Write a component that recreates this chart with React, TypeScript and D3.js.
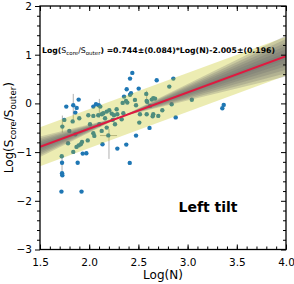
import * as d3 from 'd3';
import { useEffect, useRef } from 'react';

// log(N) of each source
const logN = [
    1.767, 1.838, 1.893, 1.873, 1.859, 2.042, 2.069, 2.097, 2.113, 2.438,
    2.415, 2.503, 2.381, 2.425, 2.415, 2.354, 2.686, 2.855, 3.353, 3.367,
    2.879, 2.613, 2.476, 2.377, 2.286, 2.135, 2.412, 1.971, 1.934, 1.883,
    1.724, 1.724, 1.727, 1.718, 1.922,
    1.727, 1.747, 1.832, 1.721, 1.785, 1.838, 1.871, 1.893, 1.914, 1.927,
    1.985, 2.052, 1.859, 1.899, 1.991, 2.008, 2.042, 2.042, 2.092, 2.103,
    2.127, 2.143, 2.161, 2.178, 2.204, 2.229, 2.252, 2.279, 2.194, 2.127,
    2.178, 2.286, 2.330, 2.347, 2.340, 2.387, 2.374, 2.465, 2.476, 2.509,
    2.516, 2.580, 2.584, 2.618, 2.651, 2.669, 2.635, 2.651, 2.645, 2.702,
    2.743, 2.814, 3.043, 2.838, 2.590, 2.584, 2.239, 2.262, 1.798
];
// log(S_core/S_outer) of each source
const logRatio = [
    -0.066, -0.037, 0.078, -0.092, -0.189, -0.066, -0.016, -0.037, -0.066, 0.626,
    0.509, 0.304, 0.292, 0.209, 0.179, 0.140, 0.476, 0.509, -0.099, -0.031,
    -0.287, -0.503, -0.661, -0.846, -0.928, -0.838, -1.222, -1.023, -1.031, -1.218,
    -1.218, -1.433, -1.474, -1.811, -1.811,
    -0.476, -0.339, -0.370, -1.084, -0.817, -0.996, -0.893, -0.862, -0.838, -0.791,
    -0.760, -0.667, -0.632, -0.304, -0.242, -0.427, -0.257, -0.612, -0.242, -0.427,
    -0.222, -0.201, -0.304, -0.168, -0.140, -0.209, -0.242, -0.119, -0.657, -0.565,
    -0.497, -0.222, -0.324, -0.201, 0.010, 0.016, 0.051, 0.072, -0.037, -0.394,
    -0.222, 0.195, 0.051, -0.051, 0.107, 0.099, 0.078, -0.222, -0.263, -0.257,
    -0.140, 0.345, 0.076, -0.016, 0.031, -0.222, -0.339, -0.427, -0.565
];

// error bars (vertical: x, lo, hi)
const errX = [1.838, 2.103, 2.201, 1.724, 1.727, 2.584];
const errLo = [-0.359, -0.298, -1.14, -1.45, -0.60, 0.05];
const errHi = [0.195, 0.092, -0.524, -1.08, -0.25, 0.26];
// horizontal error bar
const herrY = [-0.661];
const herrLo = [2.11];
const herrHi = [2.283];

// fit
const slope = 0.744, slopeErr = 0.084;
const intercept = -2.005;
const pivot = 2.33;
const scatterWidth = 0.4;
const sigmaLevels = [0.5, 1, 1.5, 2, 2.5, 3];

const xTicks = [1.5, 2.0, 2.5, 3.0, 3.5, 4.0];
const yTicks = [-3, -2, -1, 0, 1, 2];

const App = () => {
    const ref = useRef<SVGSVGElement>(null);
    useEffect(() => {
        DrawChart()
    }, []);
    const DrawChart = () => {
        var W = 294, H = 284;
        var left = 40, right = 286, top = 6, bottom = 249.5;
        var x = d3.scaleLinear().domain([1.5, 4.0]).range([left, right]);
        var y = d3.scaleLinear().domain([-3, 2]).range([bottom, top]);
        var svg = d3.select(ref.current);
        svg.selectAll("*").remove();
        svg.attr("width", W).attr("height", H).style("background-color", "#fff");

        svg.append("defs").append("clipPath").attr("id", "plotclip")
            .append("rect").attr("x", left).attr("y", top)
            .attr("width", right - left).attr("height", bottom - top);
        var plot = svg.append("g").attr("clip-path", "url(#plotclip)");

        var fit = (v: number) => slope * v + intercept;

        // points (under the bands)
        plot.selectAll(".err").data(errX).enter().append("line")
            .attr("x1", d => x(d)).attr("x2", d => x(d))
            .attr("y1", (d, i) => y(errLo[i])).attr("y2", (d, i) => y(errHi[i]))
            .attr("stroke", "#b0b0b0").attr("stroke-width", 1);
        plot.selectAll(".herr").data(herrY).enter().append("line")
            .attr("x1", (d, i) => x(herrLo[i])).attr("x2", (d, i) => x(herrHi[i]))
            .attr("y1", d => y(d)).attr("y2", d => y(d))
            .attr("stroke", "#b0b0b0").attr("stroke-width", 1);
        plot.selectAll(".pt").data(logN).enter().append("circle")
            .attr("cx", d => x(d)).attr("cy", (d, i) => y(logRatio[i]))
            .attr("r", 2.2).attr("fill", "#1f77b4");

        // scatter band
        var xs = [1.5, 4.0];
        var band = d3.area<number>()
            .x(d => x(d))
            .y0(d => y(fit(d) - scatterWidth))
            .y1(d => y(fit(d) + scatterWidth));
        plot.append("path").datum(xs).attr("d", band)
            .attr("fill", "#bfbf00").attr("opacity", 0.3);

        // slope uncertainty fan
        sigmaLevels.forEach(k => {
            var fan = d3.area<number>()
                .x(d => x(d))
                .y0(d => y(fit(pivot) + (slope - k * slopeErr * Math.sign(d - pivot)) * (d - pivot)))
                .y1(d => y(fit(pivot) + (slope + k * slopeErr * Math.sign(d - pivot)) * (d - pivot)));
            plot.append("path").datum([1.5, pivot, 4.0]).attr("d", fan)
                .attr("fill", "#6e6e6e").attr("opacity", 0.26);
        });

        // best fit
        plot.append("line")
            .attr("x1", x(1.5)).attr("y1", y(fit(1.5)))
            .attr("x2", x(4.0)).attr("y2", y(fit(4.0)))
            .attr("stroke", "#e0193f").attr("stroke-width", 2);

        // axes
        var fs = "10.5px";
        var font = "DejaVu Sans";
        var axB = svg.append("g").attr("transform", "translate(0," + bottom + ")")
            .call(d3.axisBottom(x).tickValues(xTicks).tickSize(-5).tickFormat(d3.format(".1f")).tickPadding(9));
        var axBm = svg.append("g").attr("transform", "translate(0," + bottom + ")")
            .call(d3.axisBottom(x).tickValues(d3.range(16, 40).map(v => v / 10)).tickSize(-3).tickFormat(() => ""));
        var axT = svg.append("g").attr("transform", "translate(0," + top + ")")
            .call(d3.axisTop(x).tickValues(xTicks).tickSize(-5).tickFormat(() => ""));
        var axTm = svg.append("g").attr("transform", "translate(0," + top + ")")
            .call(d3.axisTop(x).tickValues(d3.range(16, 40).map(v => v / 10)).tickSize(-3).tickFormat(() => ""));
        var axL = svg.append("g").attr("transform", "translate(" + left + ",0)")
            .call(d3.axisLeft(y).tickValues(yTicks).tickSize(5).tickFormat(d => d3.format("d")(d as number).replace("-", "\u2212")).tickPadding(3));
        var axLm = svg.append("g").attr("transform", "translate(" + left + ",0)")
            .call(d3.axisLeft(y).tickValues(d3.range(-14, 10).map(v => v / 5).filter(v => Math.abs(v - Math.round(v)) > 0.01)).tickSize(3).tickFormat(() => ""));
        var axR = svg.append("g").attr("transform", "translate(" + right + ",0)")
            .call(d3.axisRight(y).tickValues(yTicks).tickSize(-5).tickFormat(() => ""));
        var axRm = svg.append("g").attr("transform", "translate(" + right + ",0)")
            .call(d3.axisRight(y).tickValues(d3.range(-14, 10).map(v => v / 5).filter(v => Math.abs(v - Math.round(v)) > 0.01)).tickSize(-3).tickFormat(() => ""));
        [axB, axBm, axT, axTm, axL, axLm, axR, axRm].forEach(g => {
            g.select(".domain").remove();
            g.selectAll("line").attr("stroke", "#000").attr("stroke-width", 1);
            g.selectAll("text").style("font-family", font).style("font-size", fs).attr("fill", "#000");
        });

        svg.append("rect").attr("x", left).attr("y", top)
            .attr("width", right - left).attr("height", bottom - top)
            .attr("fill", "none").attr("stroke", "#000").attr("stroke-width", 1.3);

        // labels
        svg.append("text")
            .attr("x", (left + right) / 2).attr("y", 279)
            .attr("text-anchor", "middle")
            .style("font-family", font).style("font-size", "12px")
            .text("Log(N)");
        var yl = svg.append("text")
            .attr("text-anchor", "middle")
            .attr("transform", "translate(13," + ((top + bottom) / 2) + ")rotate(-90)")
            .style("font-family", font).style("font-size", "12px");
        yl.append("tspan").text("Log(S");
        yl.append("tspan").attr("dy", 2.5).style("font-size", "8.5px").text("core");
        yl.append("tspan").attr("dy", -2.5).text("/S");
        yl.append("tspan").attr("dy", 2.5).style("font-size", "8.5px").text("outer");
        yl.append("tspan").attr("dy", -2.5).text(")");

        var eq = svg.append("text")
            .attr("x", 42).attr("y", 53)
            .style("font-family", font).style("font-size", "7.75px").style("font-weight", "bold");
        eq.append("tspan").text("Log(");
        eq.append("tspan").style("font-weight", "normal").text("S");
        eq.append("tspan").attr("dy", 1.5).style("font-weight", "normal").style("font-size", "5.5px").text("core");
        eq.append("tspan").attr("dy", -1.5).style("font-weight", "normal").text("/S");
        eq.append("tspan").attr("dy", 1.5).style("font-weight", "normal").style("font-size", "5.5px").text("outer");
        eq.append("tspan").attr("dy", -1.5).text(") =0.744\u00b1(0.084)*Log(N)-2.005\u00b1(0.196)");

        svg.append("text")
            .attr("x", 208).attr("y", 212)
            .attr("text-anchor", "middle")
            .style("font-family", font).style("font-size", "14px").style("font-weight", "bold")
            .text("Left tilt");
    }
    return (
        <>
            <svg ref={ref} style={{ position: "absolute", left: 0, top: 0 }}></svg>
        </>
    )
}
export default App;
